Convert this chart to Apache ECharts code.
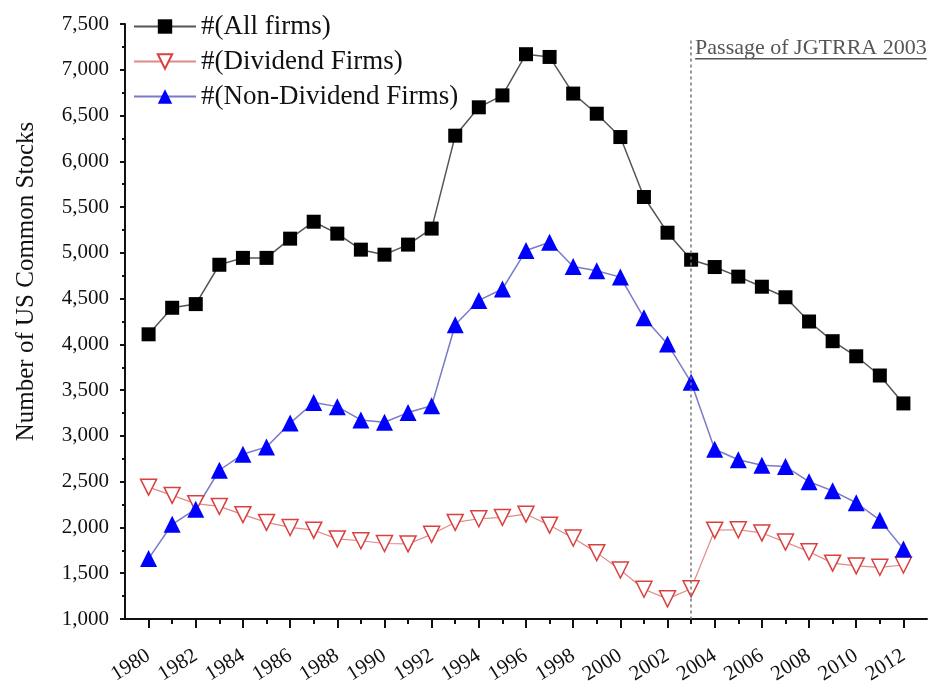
<!DOCTYPE html>
<html>
<head>
<meta charset="utf-8">
<script src="https://cdn.jsdelivr.net/npm/echarts@6/dist/echarts.min.js"></script>
<style>
html,body{margin:0;padding:0;background:#fff;}
#chart{width:931px;height:691px;}
</style>
</head>
<body>
<div id="chart"></div>
<script>
const years = [1980,1981,1982,1983,1984,1985,1986,1987,1988,1989,1990,1991,1992,1993,1994,1995,1996,1997,1998,1999,2000,2001,2002,2003,2004,2005,2006,2007,2008,2009,2010,2011,2012];
const allFirms = [4110,4400,4440,4870,4945,4945,5155,5340,5210,5035,4980,5090,5265,6280,6590,6720,7170,7140,6740,6520,6265,5610,5220,4925,4845,4740,4630,4515,4250,4035,3870,3660,3355];
const dividendFirms = [2440,2350,2260,2230,2140,2055,2000,1970,1875,1855,1825,1820,1925,2055,2095,2110,2145,2025,1885,1725,1535,1325,1220,1330,1970,1975,1940,1840,1735,1610,1580,1565,1590];
const nonDividendFirms = [1660,2035,2200,2625,2800,2880,3140,3365,3320,3175,3150,3255,3330,4215,4480,4605,5025,5115,4850,4805,4735,4290,4005,3585,2855,2740,2680,2665,2500,2400,2270,2080,1765];
const seriesNames = ['#(All firms)', '#(Dividend Firms)', '#(Non-Dividend Firms)'];
const xLabelYears = [1980,1982,1984,1986,1988,1990,1992,1994,1996,1998,2000,2002,2004,2006,2008,2010,2012];
const annotationText = 'Passage of JGTRRA 2003';
const annotationYear = 2003;
const annotationTop = 7320;
const annotationTextValue = 7230;

const FONT = '"Liberation Serif","Times New Roman",serif';
const pairs = arr => years.map((y, i) => [y, arr[i]]);

const chart = echarts.init(document.getElementById('chart'), null, {renderer: 'canvas'});
const option = {
  animation: false,
  backgroundColor: '#fff',
  grid: {left: 125, right: 4, top: 24, bottom: 72, containLabel: false},
  legend: {
    orient: 'vertical', left: 128, top: 8, itemGap: 8,
    itemWidth: 62, itemHeight: 18,
    textStyle: {fontFamily: FONT, fontSize: 27, color: '#111'},
    data: seriesNames
  },
  xAxis: [{
    type: 'value', min: 1979, max: 2013, interval: 1,
    axisLine: {show: true, onZero: false, lineStyle: {color: '#111', width: 2}},
    axisTick: {show: true, length: 5, lineStyle: {color: '#111', width: 2}, customValues: years},
    axisLabel: {show: false},
    splitLine: {show: false}
  }, {
    type: 'value', min: 1979, max: 2013, interval: 1, position: 'bottom',
    axisLine: {show: false},
    axisTick: {show: true, length: 9, lineStyle: {color: '#111', width: 2}, customValues: xLabelYears},
    axisLabel: {show: true, rotate: 32, margin: 35, fontFamily: FONT, fontSize: 21, color: '#111',
      customValues: xLabelYears, formatter: v => String(v)},
    splitLine: {show: false}
  }],
  yAxis: {
    type: 'value', min: 1000, max: 7500, interval: 500,
    name: 'Number of US Common Stocks', nameLocation: 'middle', nameGap: 86,
    nameTextStyle: {fontFamily: FONT, fontSize: 25, color: '#111', padding: [0, 0, 0, 80]},
    axisLine: {show: true, lineStyle: {color: '#111', width: 2}},
    axisTick: {show: true, length: 5, lineStyle: {color: '#111', width: 2}},
    minorTick: {show: true, splitNumber: 2, length: 3, lineStyle: {color: '#111', width: 2}},
    axisLabel: {margin: 16, fontFamily: FONT, fontSize: 21, color: '#111',
      formatter: v => v.toLocaleString('en-US')},
    splitLine: {show: false}
  },
  series: [{
    name: seriesNames[0], type: 'line', data: pairs(allFirms),
    symbol: 'rect', symbolSize: 14,
    itemStyle: {color: '#000'},
    lineStyle: {color: '#555', width: 1.5},
    markLine: {
      silent: true, symbol: 'none', label: {show: false},
      lineStyle: {color: '#777', width: 1.5, type: [3, 3]},
      data: [[{coord: [annotationYear, annotationTop]}, {coord: [annotationYear, 1000]}]]
    },
    z: 3
  }, {
    name: seriesNames[1], type: 'line', data: pairs(dividendFirms),
    symbol: 'triangle', symbolRotate: 180, symbolSize: 16,
    itemStyle: {color: '#fff', borderColor: '#d9403f', borderWidth: 1.5},
    lineStyle: {color: '#e08a88', width: 1.2},
    z: 2
  }, {
    name: seriesNames[2], type: 'line', data: pairs(nonDividendFirms),
    symbol: 'triangle', symbolSize: 17,
    itemStyle: {color: '#0000ff'},
    lineStyle: {color: '#7a7ac8', width: 1.5},
    z: 2
  }]
};
chart.setOption(option);

const p = chart.convertToPixel({xAxisIndex: 0, yAxisIndex: 0}, [annotationYear, annotationTextValue]);
const annFont = '22px ' + FONT;
const ctx = document.createElement('canvas').getContext('2d');
ctx.font = annFont;
const tw = ctx.measureText(annotationText).width;
const tx = p[0] + 4;
chart.setOption({
  graphic: [{
    type: 'text', x: tx, y: p[1], z: 10,
    style: {text: annotationText, font: annFont, fill: '#555', textAlign: 'left', textVerticalAlign: 'middle'}
  }, {
    type: 'line', z: 10,
    shape: {x1: tx, y1: p[1] + 10, x2: tx + tw, y2: p[1] + 10},
    style: {stroke: '#555', lineWidth: 1.5}
  }]
});
</script>
</body>
</html>
